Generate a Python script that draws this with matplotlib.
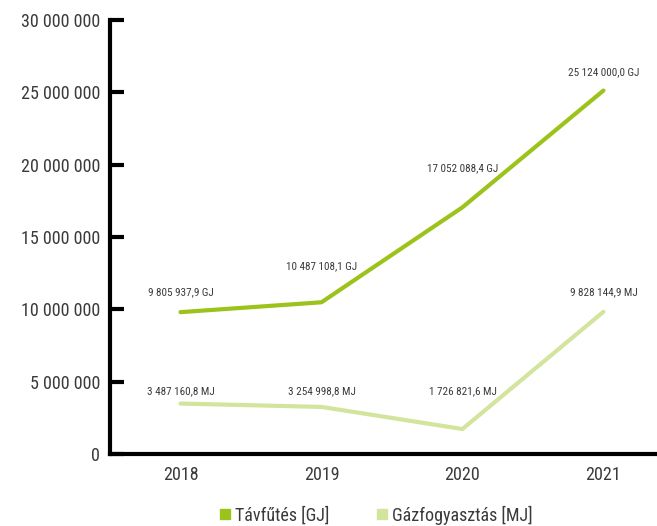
import matplotlib.pyplot as plt
from matplotlib.ticker import FuncFormatter, MultipleLocator
from matplotlib.lines import Line2D

plt.rcParams['font.family'] = ['Roboto Condensed', 'DejaVu Sans']

years = ['2018', '2019', '2020', '2021']
tavfutes = [9805937.9, 10487108.1, 17052088.4, 25124000.0]
gaz = [3487160.8, 3254998.8, 1726821.6, 9828144.9]
tav_labels = ['9 805 937,9 GJ', '10 487 108,1 GJ', '17 052 088,4 GJ', '25 124 000,0 GJ']
gaz_labels = ['3 487 160,8 MJ', '3 254 998,8 MJ', '1 726 821,6 MJ', '9 828 144,9 MJ']

# label offsets above the points (points)
tav_off = [14, 26, 28, 13]
gaz_off = [9, 11, 27, 14]

c_tav = '#9cc31b'
c_gaz = '#d3e49d'
txt = '#3a3a3a'

fig = plt.figure(figsize=(6.57, 5.26), dpi=100)
ax = fig.add_axes([110 / 657, 72 / 526, 1 - 110 / 657, (454 - 20) / 526])

x = range(len(years))
ax.plot(x, tavfutes, color=c_tav, lw=3, solid_capstyle='round')
ax.plot(x, gaz, color=c_gaz, lw=3, solid_capstyle='round')

for i in x:
    ax.annotate(tav_labels[i], (i, tavfutes[i]), xytext=(0, tav_off[i]),
                textcoords='offset points', ha='center', va='center',
                fontsize=8, color=txt)
    ax.annotate(gaz_labels[i], (i, gaz[i]), xytext=(0, gaz_off[i]),
                textcoords='offset points', ha='center', va='center',
                fontsize=8, color=txt)

ax.set_xlim(-0.5, 3.38)
ax.set_ylim(0, 30000000)
ax.set_xticks(list(x))
ax.set_xticklabels(years)
ax.yaxis.set_major_locator(MultipleLocator(5000000))
ax.yaxis.set_major_formatter(FuncFormatter(lambda v, p: f'{int(v):,}'.replace(',', ' ')))

for s in ['top', 'right']:
    ax.spines[s].set_visible(False)
for s in ['left', 'bottom']:
    ax.spines[s].set_linewidth(3)
    ax.spines[s].set_color('black')

ax.tick_params(axis='y', direction='in', length=10, width=3, pad=7,
               labelsize=13, labelcolor=txt)
ax.tick_params(axis='x', length=0, pad=9, labelsize=13, labelcolor=txt)

handles = [Line2D([], [], marker='s', ls='', color=c_tav, markersize=7),
           Line2D([], [], marker='s', ls='', color=c_gaz, markersize=7)]
fig.legend(handles, ['Távfűtés [GJ]', 'Gázfogyasztás [MJ]'], loc='center',
           bbox_to_anchor=(376 / 657, 1 - 515 / 526), ncol=2, frameon=False,
           fontsize=13, handlelength=0.6, handletextpad=0.25,
           columnspacing=2.6, labelcolor=txt)

fig.savefig('out.png', dpi=100)
